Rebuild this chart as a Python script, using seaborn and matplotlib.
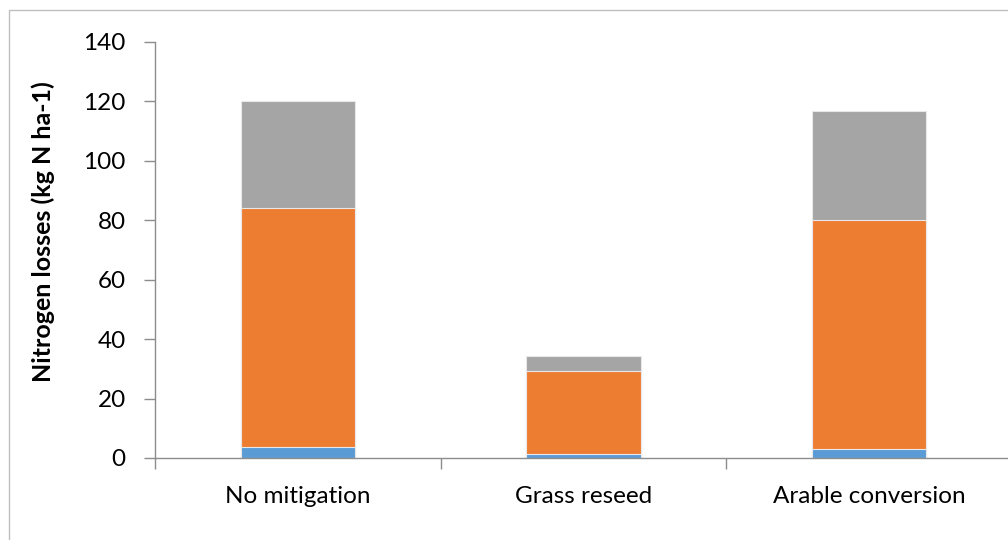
import matplotlib
matplotlib.use("Agg")
import matplotlib.pyplot as plt
import seaborn as sns
import pandas as pd
import numpy as np
from matplotlib.patches import Rectangle

# Nitrogen loss components per management scenario (kg N ha-1)
categories = ["No mitigation", "Grass reseed", "Arable conversion"]
loss_bottom = [3.6, 1.2, 3.0]
loss_middle = [80.4, 28.0, 77.1]
loss_top = [36.0, 5.0, 36.6]

colors = ["#5B9BD5", "#ED7D31", "#A5A5A5"]

sns.set_theme(style="white")
plt.rcParams["font.family"] = ["Lato", "DejaVu Sans"]

fig = plt.figure(figsize=(10.08, 5.4), dpi=100)
ax = fig.add_axes([155 / 1008, 1 - 458 / 540, (1012 - 155) / 1008, 416 / 540])

# Outer chart frame
fig.patches.append(Rectangle((9 / 1008, -0.1), 1.2, 1.1 - 10 / 540,
                             transform=fig.transFigure, fill=False,
                             edgecolor="#BFBFBF", linewidth=1.0, zorder=0))

df = pd.DataFrame({
    "category": categories,
    "b": loss_bottom,
    "m": loss_middle,
    "t": loss_top,
})
df["c1"] = df["b"]
df["c2"] = df["b"] + df["m"]
df["c3"] = df["b"] + df["m"] + df["t"]

# Stack by drawing cumulative totals from the tallest layer down
for col, color in zip(["c3", "c2", "c1"], colors[::-1]):
    sns.barplot(data=df, x="category", y=col, color=color, width=0.4,
                edgecolor="#E8E8E8", linewidth=0.8, saturation=1,
                errorbar=None, ax=ax, order=categories)

ax.set_xlim(-0.5, 2.5)
ax.set_ylim(0, 140)
ax.set_yticks(np.arange(0, 141, 20))
ax.set_xlabel("")
ax.set_ylabel("Nitrogen losses (kg N ha-1)", fontsize=18, fontweight="bold",
              color="black")
ax.yaxis.set_label_coords(-0.1167, 0.544)

for side in ["top", "right"]:
    ax.spines[side].set_visible(False)
for side in ["left", "bottom"]:
    ax.spines[side].set_color("#8C8C8C")
    ax.spines[side].set_linewidth(1.0)

ax.tick_params(axis="y", which="major", length=8, width=1.0, color="#8C8C8C",
               direction="out", left=True, labelsize=17.5, labelcolor="black", pad=13)
ax.tick_params(axis="x", which="major", length=0, labelsize=17.5,
               labelcolor="black", pad=20)
ax.set_xticks([-0.5, 0.5, 1.5, 2.5], minor=True)
ax.tick_params(axis="x", which="minor", length=8, width=1.0, color="#8C8C8C",
               direction="out", bottom=True)

fig.savefig("out.png", dpi=100)
